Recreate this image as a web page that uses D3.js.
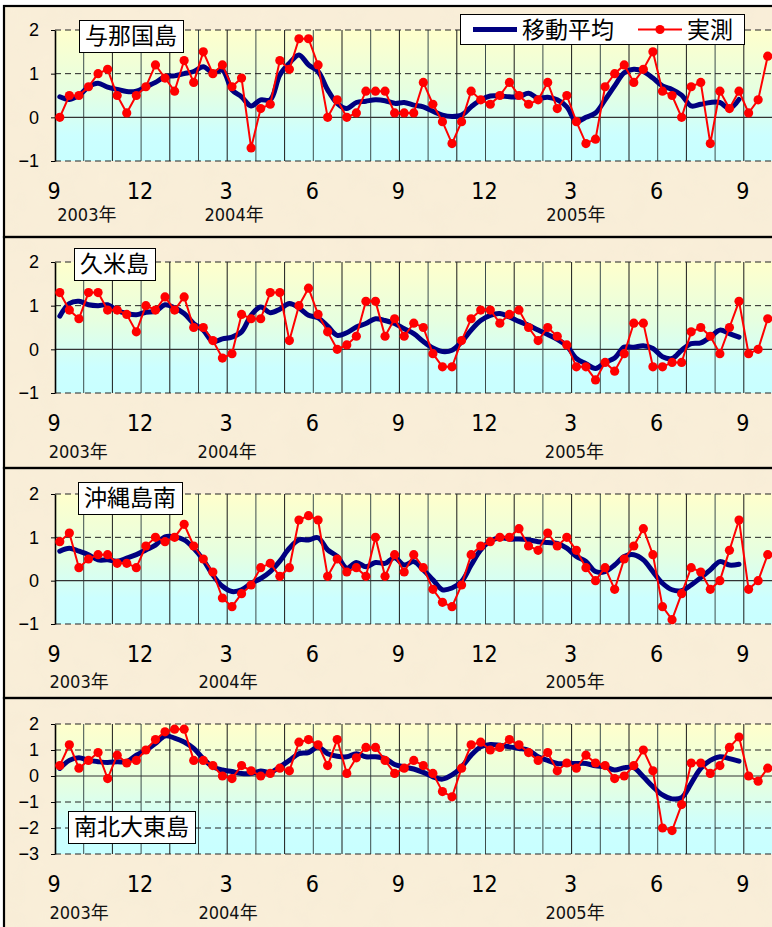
<!DOCTYPE html>
<html>
<head>
<meta charset="utf-8">
<script src="https://cdn.jsdelivr.net/npm/d3@7"></script>
<style>
  html, body { margin: 0; padding: 0; background: #fff; }
  svg { display: block; }
</style>
</head>
<body>
<div id="chart"></div>
<script>
// ─── data: dekad (旬) values, Sep 2003 上旬 .. Sep 2005 下旬 ─────────
const monthLabels = ["9", "12", "3", "6", "9", "12", "3", "6", "9"];
const yearLabels  = ["2003年", "2004年", "2005年"];
const stations    = ["与那国島", "久米島", "沖縄島南", "南北大東島"];
const legendNames = ["移動平均", "実測"];

const yonaguniObs = [
  0.0, 0.5, 0.5, 0.7, 1.0, 1.1, 0.5, 0.1, 0.5, 0.7,
  1.2, 0.9, 0.6, 1.3, 0.8, 1.5, 1.0, 1.2, 0.7, 0.9,
  -0.7, 0.2, 0.3, 1.3, 1.1, 1.8, 1.8, 1.2, 0.0, 0.4,
  0.0, 0.1, 0.6, 0.6, 0.6, 0.1, 0.1, 0.1, 0.8, 0.3,
  -0.1, -0.6, -0.1, 0.6, 0.4, 0.3, 0.5, 0.8, 0.5, 0.3,
  0.4, 0.8, 0.2, 0.5, -0.1, -0.6, -0.5, 0.7, 1.0, 1.2,
  0.8, 1.1, 1.5, 0.6, 0.5, 0.0, 0.7, 0.8, -0.6, 0.6,
  0.2, 0.6, 0.1, 0.4, 1.4
];
const yonaguniMA = [
  0.47, 0.41, 0.5, 0.7, 0.78, 0.69, 0.64, 0.59, 0.6, 0.7,
  0.8, 0.93, 0.95, 1.0, 1.05, 1.16, 1.02, 1.08, 0.63, 0.47,
  0.26, 0.4, 0.4, 0.97, 1.24, 1.43, 1.2, 1.05, 0.63, 0.32,
  0.2, 0.34, 0.37, 0.4, 0.38, 0.32, 0.34, 0.28, 0.24, 0.14,
  0.05, 0.02, 0.05, 0.24, 0.4, 0.49, 0.49, 0.47, 0.47, 0.55,
  0.44, 0.46, 0.4, 0.24, -0.1, 0.0, 0.1, 0.4, 0.72, 1.02,
  1.1, 1.05, 0.9, 0.72, 0.64, 0.51, 0.26, 0.3, 0.34, 0.34,
  0.2, 0.41
];

const kumeObs = [
  1.3, 0.9, 0.7, 1.3, 1.3, 0.9, 0.9, 0.8, 0.4, 1.0,
  0.9, 1.2, 0.9, 1.2, 0.5, 0.5, 0.2, -0.2, -0.1, 0.8,
  0.7, 0.7, 1.3, 1.3, 0.2, 1.0, 1.4, 0.8, 0.4, 0.0,
  0.1, 0.3, 1.1, 1.1, 0.3, 0.7, 0.3, 0.6, 0.5, -0.1,
  -0.4, -0.4, 0.2, 0.7, 0.9, 0.9, 0.6, 0.8, 0.9, 0.5,
  0.2, 0.5, 0.3, 0.1, -0.4, -0.4, -0.7, -0.3, -0.5, -0.1,
  0.6, 0.6, -0.4, -0.4, -0.3, -0.3, 0.4, 0.5, 0.3, -0.1,
  0.5, 1.1, -0.1, 0.0, 0.7
];
const kumeMA = [
  0.76, 1.05, 1.1, 1.02, 1.0, 1.02, 0.89, 0.82, 0.79, 0.85,
  0.87, 1.02, 0.95, 0.82, 0.59, 0.44, 0.18, 0.24, 0.28, 0.4,
  0.78, 0.97, 0.84, 0.92, 1.05, 0.95, 0.78, 0.72, 0.53, 0.32,
  0.38, 0.51, 0.59, 0.7, 0.66, 0.59, 0.47, 0.36, 0.18, 0.03,
  -0.05, -0.02, 0.17, 0.44, 0.66, 0.78, 0.82, 0.74, 0.64, 0.55,
  0.44, 0.34, 0.23, 0.08, -0.21, -0.33, -0.44, -0.3, -0.2, 0.05,
  0.05, 0.08, 0.02, -0.17, -0.21, -0.02, 0.13, 0.15, 0.28, 0.44,
  0.36, 0.28
];

const okinawaObs = [
  0.9, 1.1, 0.3, 0.5, 0.6, 0.6, 0.4, 0.4, 0.3, 0.8,
  1.0, 0.9, 1.0, 1.3, 0.8, 0.5, 0.2, -0.4, -0.6, -0.3,
  -0.1, 0.3, 0.4, 0.1, 0.3, 1.4, 1.5, 1.4, 0.1, 0.5,
  0.2, 0.3, 0.1, 1.0, 0.1, 0.6, 0.2, 0.6, 0.3, -0.2,
  -0.5, -0.6, -0.1, 0.6, 0.8, 0.9, 1.0, 1.0, 1.2, 0.8,
  0.7, 1.1, 0.8, 1.0, 0.7, 0.3, 0.0, 0.3, -0.2, 0.5,
  0.8, 1.2, 0.6, -0.6, -0.9, -0.3, 0.3, 0.2, -0.2, 0.0,
  0.7, 1.4, -0.2, 0.0, 0.6
];
const okinawaMA = [
  0.68, 0.75, 0.68, 0.6, 0.48, 0.48, 0.45, 0.52, 0.6, 0.71,
  0.82, 1.01, 1.01, 0.94, 0.75, 0.48, 0.13, -0.13, -0.25, -0.21,
  -0.06, 0.05, 0.21, 0.45, 0.75, 0.94, 0.94, 0.99, 0.71, 0.56,
  0.29, 0.42, 0.32, 0.42, 0.4, 0.53, 0.36, 0.44, 0.25, 0.02,
  -0.21, -0.17, -0.02, 0.36, 0.71, 0.91, 0.99, 0.96, 0.96, 0.94,
  0.9, 0.88, 0.86, 0.75, 0.56, 0.44, 0.21, 0.21, 0.36, 0.56,
  0.6, 0.48, 0.21, -0.06, -0.21, -0.23, -0.1, 0.07, 0.25, 0.44,
  0.36, 0.38
];

const daitoObs = [
  0.4, 1.2, 0.3, 0.6, 0.9, -0.1, 0.8, 0.5, 0.6, 1.0,
  1.4, 1.7, 1.8, 1.8, 0.6, 0.6, 0.4, 0.0, -0.1, 0.4,
  0.2, 0.0, 0.1, 0.3, 0.2, 1.3, 1.4, 1.2, 0.4, 1.4,
  0.1, 0.7, 1.1, 1.1, 0.6, 0.1, 0.3, 0.6, 0.4, 0.1,
  -0.6, -0.8, 0.3, 1.2, 1.3, 1.0, 1.1, 1.4, 1.2, 0.9,
  0.6, 0.9, 0.2, 0.5, 0.3, 0.8, 0.5, 0.4, -0.1, 0.0,
  0.4, 1.0, 0.2, -2.0, -2.1, -1.1, 0.5, 0.5, 0.1, 0.4,
  1.1, 1.5, 0.0, -0.2, 0.3
];
const daitoMA = [
  0.29, 0.6, 0.7, 0.6, 0.55, 0.52, 0.55, 0.55, 0.8, 0.99,
  1.25, 1.54, 1.46, 1.31, 1.06, 0.67, 0.35, 0.23, 0.17, 0.1,
  0.1, 0.19, 0.14, 0.35, 0.6, 0.86, 0.9, 1.12, 0.86, 0.76,
  0.74, 0.86, 0.74, 0.74, 0.67, 0.44, 0.35, 0.27, 0.14, -0.03,
  -0.12, 0.04, 0.35, 0.8, 1.12, 1.21, 1.18, 1.12, 1.06, 0.99,
  0.74, 0.6, 0.48, 0.48, 0.48, 0.48, 0.39, 0.35, 0.23, 0.32,
  0.32, -0.03, -0.41, -0.73, -0.88, -0.83, -0.28, 0.29, 0.6, 0.74,
  0.67, 0.57
];

const yTicksShort = [2, 1, 0, -1];
const yTicksLong  = [2, 1, 0, -1, -2, -3];

// ─── layout ──────────────────────────────────────────────────────
const W = 772, H = 927;
const plotLeft = 55, plotRight = 772.5;
const nMonths = 25;
const obsRed = "#ff0000";
const maBlue = "#000080";
const narrow = "'Liberation Sans Narrow', 'DejaVu Sans Condensed', 'Noto Sans CJK JP', sans-serif";
const jp     = "'Noto Sans CJK JP', sans-serif";

const panels = [
  { name: stations[0], obs: yonaguniObs, ma: yonaguniMA, ticks: yTicksShort,
    frame: [6, 237], top: 30, bottom: 161, title: [79, 20], yearAt: [1.11, 6.24, 18.15], yearGap: 60 },
  { name: stations[1], obs: kumeObs, ma: kumeMA, ticks: yTicksShort,
    frame: [237, 468], top: 262, bottom: 393, title: [74, 248], yearAt: [0.81, 6.0, 18.1], yearGap: 65 },
  { name: stations[2], obs: okinawaObs, ma: okinawaMA, ticks: yTicksShort,
    frame: [468, 698], top: 494, bottom: 624, title: [78, 482], yearAt: [0.84, 6.03, 18.12], yearGap: 64 },
  { name: stations[3], obs: daitoObs, ma: daitoMA, ticks: yTicksLong,
    frame: [698, 930], top: 724, bottom: 854, title: [68, 811], yearAt: [0.84, 6.03, 18.12], yearGap: 65 }
];

const svg = d3.select("#chart").append("svg")
  .attr("width", W).attr("height", H);

const defs = svg.append("defs");

const grad = defs.append("linearGradient")
  .attr("id", "plotbg").attr("x1", 0).attr("y1", 0).attr("x2", 0).attr("y2", 1);
grad.append("stop").attr("offset", "0%").attr("stop-color", "#ffffcc");
grad.append("stop").attr("offset", "45%").attr("stop-color", "#e6ffe0");
grad.append("stop").attr("offset", "80%").attr("stop-color", "#ccffff");
grad.append("stop").attr("offset", "100%").attr("stop-color", "#c8ffff");

// parchment texture
const tex = defs.append("filter").attr("id", "paper")
  .attr("x", 0).attr("y", 0).attr("width", "100%").attr("height", "100%");
tex.append("feTurbulence").attr("type", "fractalNoise")
  .attr("baseFrequency", 0.035).attr("numOctaves", 3).attr("seed", 4);
tex.append("feColorMatrix").attr("type", "matrix")
  .attr("values", "0 0 0 0 0.86  0 0 0 0 0.78  0 0 0 0 0.62  0 0 0 0.22 0");
tex.append("feComposite").attr("in2", "SourceGraphic").attr("operator", "in");

svg.append("rect").attr("width", W).attr("height", H).attr("fill", "#ffffff");
svg.append("rect").attr("x", 4).attr("y", 6).attr("width", W).attr("height", H)
  .attr("fill", "#faefd9");
svg.append("rect").attr("x", 4).attr("y", 6).attr("width", W).attr("height", H)
  .attr("fill", "#faefd9").attr("filter", "url(#paper)");

// ─── shared scales ───────────────────────────────────────────────
const xMonth = d3.scaleLinear().domain([0, nMonths]).range([plotLeft, plotRight]);
const xDekad = d3.scaleLinear().domain([0, nMonths * 3]).range([plotLeft, plotRight]);

const drawPanel = (p) => {
  const g = svg.append("g");
  const lo = d3.min(p.ticks), hi = d3.max(p.ticks);
  const y = d3.scaleLinear().domain([lo, hi]).range([p.bottom, p.top]);

  // frame
  g.append("rect")
    .attr("x", 4).attr("y", p.frame[0])
    .attr("width", W + 10).attr("height", p.frame[1] - p.frame[0])
    .attr("fill", "none").attr("stroke", "#000").attr("stroke-width", 2.2);

  // plot background
  g.append("rect")
    .attr("x", plotLeft).attr("y", p.top)
    .attr("width", plotRight - plotLeft).attr("height", p.bottom - p.top)
    .attr("fill", "url(#plotbg)");

  // monthly grid
  g.selectAll("line.vgrid")
    .data(d3.range(1, nMonths + 1))
    .join("line")
    .attr("x1", d => xMonth(d)).attr("x2", d => xMonth(d))
    .attr("y1", p.top).attr("y2", p.bottom)
    .attr("stroke", (d, i) => i % 2 ? "#1a1a1a" : "#3d4d4d")
    .attr("stroke-width", 1);

  // horizontal grid: zero solid, others dashed
  g.selectAll("line.hgrid")
    .data(p.ticks)
    .join("line")
    .attr("x1", plotLeft).attr("x2", plotRight)
    .attr("y1", d => y(d)).attr("y2", d => y(d))
    .attr("stroke", d => d === 0 ? "#333" : "#222")
    .attr("stroke-width", d => d === 0 ? 1.2 : 1)
    .attr("stroke-dasharray", d => d === 0 ? null : "6,4");

  // y axis
  const yAxis = d3.axisLeft(y).tickValues(p.ticks)
    .tickFormat(d3.format("d"))
    .tickSizeInner(4).tickSizeOuter(0).tickPadding(12);
  const ya = g.append("g").attr("transform", `translate(${plotLeft},0)`).call(yAxis);
  ya.select(".domain").attr("stroke", "#000").attr("stroke-width", 1.6);
  ya.selectAll(".tick line").attr("stroke", "#000");
  ya.selectAll(".tick text")
    .style("font-family", "'Liberation Sans', Arial, sans-serif")
    .style("font-size", "18px")
    .attr("fill", "#000");

  // x labels
  g.selectAll("text.mlab")
    .data(monthLabels)
    .join("text")
    .attr("x", (d, i) => xMonth(i * 3) - 1)
    .attr("y", p.bottom + 38)
    .attr("text-anchor", "middle")
    .style("font-family", narrow)
    .style("font-size", "23px")
    .attr("fill", "#000")
    .text(d => d);

  g.selectAll("text.ylab")
    .data(yearLabels)
    .join("text")
    .attr("x", (d, i) => xMonth(p.yearAt[i]))
    .attr("y", p.bottom + p.yearGap)
    .attr("text-anchor", "middle")
    .style("font-family", narrow)
    .style("font-size", "18px")
    .attr("fill", "#111")
    .text(d => d);

  // moving average
  const maLine = d3.line()
    .x((d, i) => xDekad(i + 0.5))
    .y(d => y(d))
    .curve(d3.curveCatmullRom.alpha(0.5));
  g.append("path")
    .datum(p.ma)
    .attr("d", maLine)
    .attr("fill", "none")
    .attr("stroke", maBlue)
    .attr("stroke-width", 5)
    .attr("stroke-linejoin", "round")
    .attr("stroke-linecap", "round");

  // observations
  const obsLine = d3.line()
    .x((d, i) => xDekad(i + 0.5))
    .y(d => y(d));
  g.append("path")
    .datum(p.obs)
    .attr("d", obsLine)
    .attr("fill", "none")
    .attr("stroke", obsRed)
    .attr("stroke-width", 2);
  g.selectAll("circle.obs")
    .data(p.obs)
    .join("circle")
    .attr("cx", (d, i) => xDekad(i + 0.5))
    .attr("cy", d => y(d))
    .attr("r", 4.6)
    .attr("fill", obsRed);

  // station title box
  const tg = g.append("g").attr("transform", `translate(${p.title[0]},${p.title[1]})`);
  const box = tg.append("rect").attr("fill", "#fff").attr("stroke", "#000").attr("stroke-width", 1);
  const t = tg.append("text")
    .attr("x", 6).attr("y", 24)
    .style("font-family", jp)
    .style("font-size", "23px")
    .attr("fill", "#000")
    .text(p.name);
  const bb = t.node().getBBox();
  box.attr("x", 0.5).attr("y", 0.5).attr("width", bb.width + 12).attr("height", 32);
};

panels.forEach(drawPanel);

// ─── legend (top panel) ──────────────────────────────────────────
const lg = svg.append("g").attr("transform", "translate(460,14)");
lg.append("rect").attr("x", 0.5).attr("y", 0.5).attr("width", 284).attr("height", 30)
  .attr("fill", "#fff").attr("stroke", "#000").attr("stroke-width", 1);
lg.append("line").attr("x1", 13).attr("x2", 57).attr("y1", 15.5).attr("y2", 15.5)
  .attr("stroke", maBlue).attr("stroke-width", 5);
lg.append("text").attr("x", 62).attr("y", 24)
  .style("font-family", jp).style("font-size", "23px").attr("fill", "#000")
  .text(legendNames[0]);
lg.append("line").attr("x1", 178).attr("x2", 222).attr("y1", 15.5).attr("y2", 15.5)
  .attr("stroke", obsRed).attr("stroke-width", 2);
lg.append("circle").attr("cx", 200).attr("cy", 15.5).attr("r", 4.6).attr("fill", obsRed);
lg.append("text").attr("x", 227).attr("y", 24)
  .style("font-family", jp).style("font-size", "23px").attr("fill", "#000")
  .text(legendNames[1]);
</script>
</body>
</html>
